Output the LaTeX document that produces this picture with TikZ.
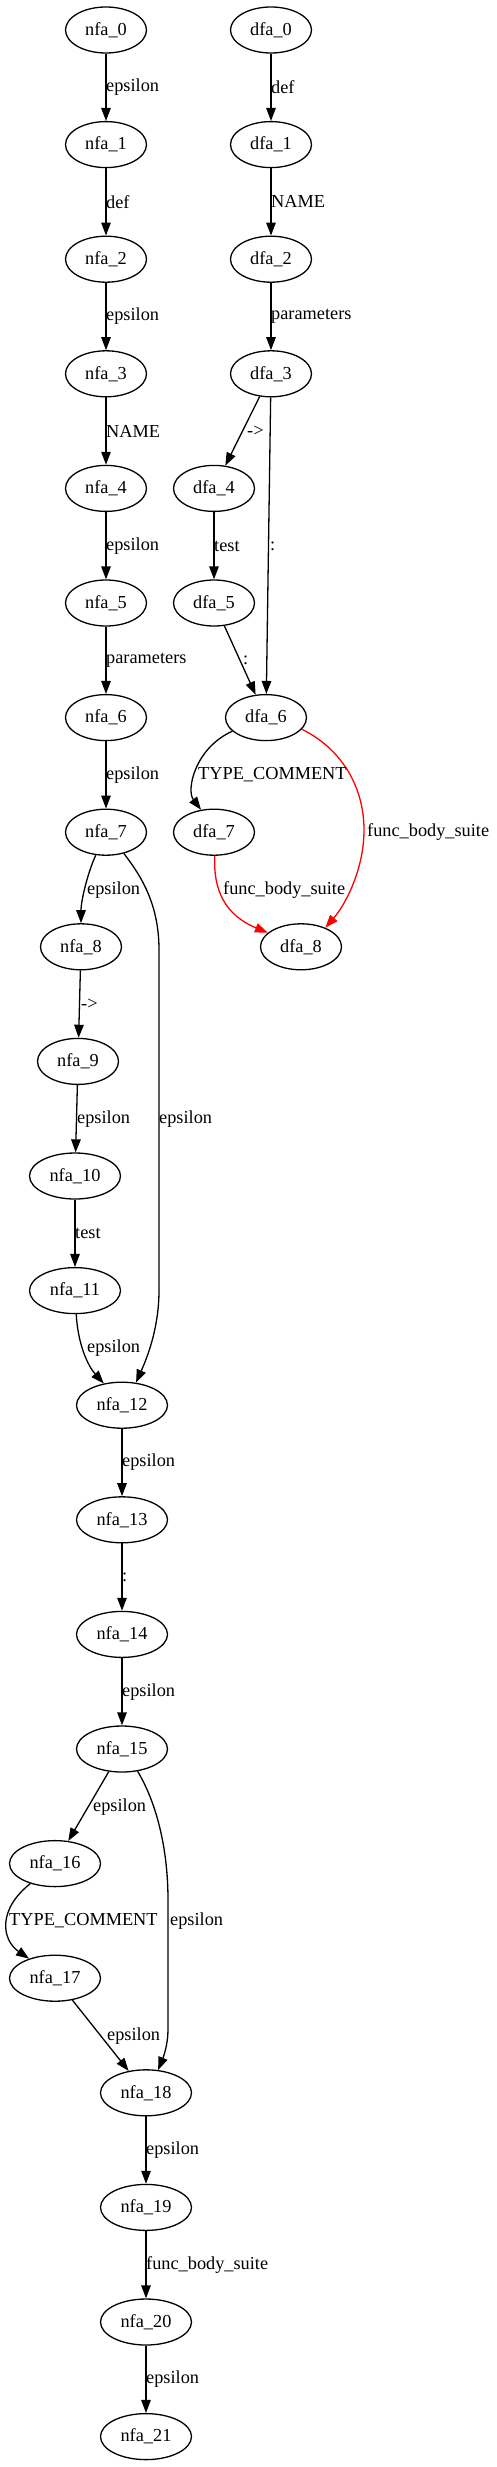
\documentclass[tikz,border=0pt]{standalone}
\usepackage{fontspec}
\setmainfont{Liberation Serif}
\usetikzlibrary{shapes.geometric,arrows.meta}
\begin{document}
\begin{tikzpicture}[x=1pt,y=-1pt,
  st/.style={ellipse,draw,line width=1.3pt,minimum width=81pt,minimum height=46pt,inner sep=0pt,font=\fontsize{18.3}{22}\selectfont},
  wide/.style={st,minimum width=91pt},
  edge/.style={line width=1.3pt,-{Triangle[length=13pt,width=9.5pt]}},
  redge/.style={edge,red},
  lab/.style={anchor=west,inner sep=0pt,font=\fontsize{18.3}{22}\selectfont}
]
\useasboundingbox[fill=white] (0,0) rectangle (496,2467);
% NFA nodes
\node[st] (nfa_0) at (106,30) {nfa\_0};
\node[st] (nfa_1) at (106,144.6) {nfa\_1};
\node[st] (nfa_2) at (106,259.2) {nfa\_2};
\node[st] (nfa_3) at (106,373.8) {nfa\_3};
\node[st] (nfa_4) at (106,488.4) {nfa\_4};
\node[st] (nfa_5) at (106,603) {nfa\_5};
\node[st] (nfa_6) at (106,717.6) {nfa\_6};
\node[st] (nfa_7) at (106,832.2) {nfa\_7};
\node[st] (nfa_8) at (81,946.8) {nfa\_8};
\node[st] (nfa_9) at (78,1061.4) {nfa\_9};
\node[wide] (nfa_10) at (75,1176) {nfa\_10};
\node[wide] (nfa_11) at (75,1290.6) {nfa\_11};
\node[wide] (nfa_12) at (122,1405.2) {nfa\_12};
\node[wide] (nfa_13) at (122,1519.8) {nfa\_13};
\node[wide] (nfa_14) at (122,1634.4) {nfa\_14};
\node[wide] (nfa_15) at (122,1749) {nfa\_15};
\node[wide] (nfa_16) at (55,1863.6) {nfa\_16};
\node[wide] (nfa_17) at (55,1978.2) {nfa\_17};
\node[wide] (nfa_18) at (146,2092.8) {nfa\_18};
\node[wide] (nfa_19) at (146,2207.4) {nfa\_19};
\node[wide] (nfa_20) at (146,2322) {nfa\_20};
\node[wide] (nfa_21) at (146,2436.6) {nfa\_21};
% DFA nodes
\node[st] (dfa_0) at (271,30) {dfa\_0};
\node[st] (dfa_1) at (271,144.6) {dfa\_1};
\node[st] (dfa_2) at (271,259.2) {dfa\_2};
\node[st] (dfa_3) at (271,373.8) {dfa\_3};
\node[st] (dfa_4) at (214,488.4) {dfa\_4};
\node[st] (dfa_5) at (214,603) {dfa\_5};
\node[st] (dfa_6) at (266,717.6) {dfa\_6};
\node[st] (dfa_7) at (214,832.2) {dfa\_7};
\node[st] (dfa_8) at (301,946.8) {dfa\_8};
% NFA edges
\draw[edge] (nfa_0) -- (nfa_1);
\draw[edge] (nfa_1) -- (nfa_2);
\draw[edge] (nfa_2) -- (nfa_3);
\draw[edge] (nfa_3) -- (nfa_4);
\draw[edge] (nfa_4) -- (nfa_5);
\draw[edge] (nfa_5) -- (nfa_6);
\draw[edge] (nfa_6) -- (nfa_7);
\draw[edge] (nfa_7.246) .. controls (88,872) and (81,900) .. (nfa_8.north);
\draw[edge] (nfa_7.-50) .. controls (142,877) and (159,905) .. (159,950) -- (159,1290) .. controls (159,1330) and (146,1360) .. (nfa_12.58);
\draw[edge] (nfa_8) -- (nfa_9);
\draw[edge] (nfa_9) -- (nfa_10);
\draw[edge] (nfa_10) -- (nfa_11);
\draw[edge] (nfa_11.-87) .. controls (78,1345) and (88,1366) .. (nfa_12.130);
\draw[edge] (nfa_12) -- (nfa_13);
\draw[edge] (nfa_13) -- (nfa_14);
\draw[edge] (nfa_14) -- (nfa_15);
\draw[edge] (nfa_15) -- (nfa_16);
\draw[edge] (nfa_15.-55) .. controls (155,1800) and (168,1845) .. (168,1900) -- (168,2030) .. controls (168,2045) and (163,2058) .. (nfa_18.62);
\draw[edge] (nfa_16.219) .. controls (-3,1910) and (2,1940) .. (nfa_17.143);
\draw[edge] (nfa_17) -- (nfa_18);
\draw[edge] (nfa_18) -- (nfa_19);
\draw[edge] (nfa_19) -- (nfa_20);
\draw[edge] (nfa_20) -- (nfa_21);
% DFA edges
\draw[edge] (dfa_0) -- (dfa_1);
\draw[edge] (dfa_1) -- (dfa_2);
\draw[edge] (dfa_2) -- (dfa_3);
\draw[edge] (dfa_3) -- (dfa_4);
\draw[edge] (dfa_3) -- (dfa_6);
\draw[edge] (dfa_4) -- (dfa_5);
\draw[edge] (dfa_5) -- (dfa_6);
\draw[edge] (dfa_6.202) .. controls (195,748) and (186,790) .. (dfa_7.120);
\draw[redge] (dfa_6.-18) .. controls (340,748) and (364,785) .. (364,830) .. controls (364,870) and (345,905) .. (dfa_8.38);
\draw[redge] (dfa_7.-88) .. controls (213,890) and (225,915) .. (dfa_8.157);
% NFA labels
\node[lab] (ln0) at (106,87.3) {epsilon};
\node[lab] (ln1) at (106,201.9) {def};
\node[lab] (ln2) at (106,316.5) {epsilon};
\node[lab] (ln3) at (106,431.1) {NAME};
\node[lab] (ln4) at (106,545.7) {epsilon};
\node[lab] (ln5) at (106,660.3) {parameters};
\node[lab] (ln6) at (106,774.9) {epsilon};
\node[lab] (ln7a) at (87,890) {epsilon};
\node[lab] (ln7b) at (159,1119) {epsilon};
\node[lab] (ln8) at (81,1004) {->};
\node[lab] (ln9) at (77,1119) {epsilon};
\node[lab] (ln10) at (75,1233) {test};
\node[lab] (ln11) at (87,1348) {epsilon};
\node[lab] (ln12) at (122,1462.5) {epsilon};
\node[lab] (ln13) at (122,1577) {:};
\node[lab] (ln14) at (122,1691.7) {epsilon};
\node[lab] (ln15a) at (93,1807) {epsilon};
\node[lab] (ln15b) at (170,1921) {epsilon};
\node[lab] (ln16) at (9,1921) {TYPE\_COMMENT};
\node[lab] (ln17) at (107,2036) {epsilon};
\node[lab] (ln18) at (146,2150) {epsilon};
\node[lab] (ln19) at (146,2264.7) {func\_body\_suite};
\node[lab] (ln20) at (146,2379.3) {epsilon};
% DFA labels
\node[lab] (ld0) at (271,87.3) {def};
\node[lab] (ld1) at (271,201.9) {NAME};
\node[lab] (ld2) at (271,316.5) {parameters};
\node[lab] (ld3a) at (247,431) {->};
\node[lab] (ld3b) at (270,546) {:};
\node[lab] (ld4) at (214,546) {test};
\node[lab] (ld5) at (243,660) {:};
\node[lab] (ld6a) at (198,775) {TYPE\_COMMENT};
\node[lab] (ld6b) at (367,832) {func\_body\_suite};
\node[lab] (ld7) at (223,890) {func\_body\_suite};
\end{tikzpicture}
\end{document}
